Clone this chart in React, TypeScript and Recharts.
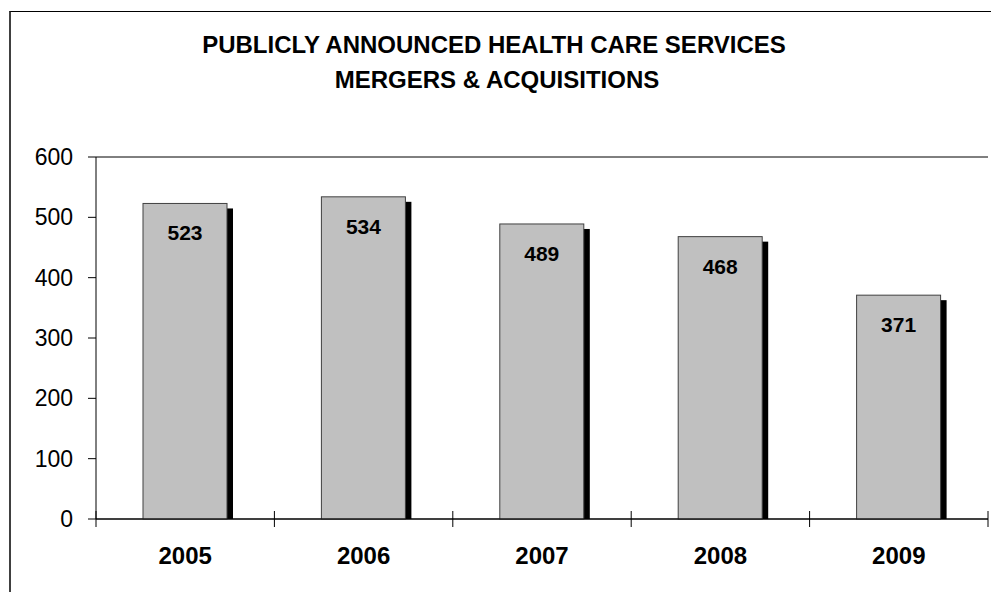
import React from "react";
import { BarChart, Bar, XAxis, YAxis, CartesianGrid, LabelList } from "recharts";

const years = ["2005", "2006", "2007", "2008", "2009"];
const deals = [523, 534, 489, 468, 371];
const yTicks = [0, 100, 200, 300, 400, 500, 600];
const titleLines = ["PUBLICLY ANNOUNCED HEALTH CARE SERVICES", "MERGERS & ACQUISITIONS"];

const data = years.map((y, i) => ({ year: y, value: deals[i] }));

const FONT = "'Liberation Sans', Arial, sans-serif";

const ShadowBar = (props: any) => {
  const { x, y, width, height } = props;
  if (height <= 0) return null;
  return (
    <g>
      <rect x={x + 6} y={y + 5} width={width} height={height - 5} fill="#000" />
      <rect x={x} y={y} width={width} height={height} fill="#C0C0C0" stroke="#404040" strokeWidth={1} />
    </g>
  );
};

const YearTick = (props: any) => {
  const { x, y, payload, index } = props;
  const half = payload && typeof payload.offset === "number" && payload.offset > 0 ? payload.offset : 89.2;
  const last = index === years.length - 1;
  return (
    <g>
      <line x1={x - half} x2={x - half} y1={y - 8} y2={y + 8} stroke="#000" strokeWidth={1} />
      {last && <line x1={x + half} x2={x + half} y1={y - 8} y2={y + 8} stroke="#000" strokeWidth={1} />}
      <text
        x={x}
        y={y + 45}
        textAnchor="middle"
        fontFamily={FONT}
        fontWeight="bold"
        fontSize={24}
        fill="#000"
      >
        {payload.value}
      </text>
    </g>
  );
};

export default function App() {
  return (
    <div style={{ position: "absolute", left: 0, top: 0, width: 991, height: 592, background: "#fff", overflow: "hidden" }}>
      <div
        style={{
          position: "absolute",
          left: 9,
          top: 11,
          width: 1000,
          height: 1000,
          borderLeft: "2px solid #404040",
          borderTop: "1px solid #000",
        }}
      />
      <div style={{ position: "absolute", left: 0, top: 0 }}>
        <BarChart
          width={991}
          height={592}
          data={data}
          margin={{ top: 157, right: 3, bottom: 0, left: 10 }}
          barCategoryGap={0}
        >
          <text x={494} y={53} textAnchor="middle" fontFamily={FONT} fontWeight="bold" fontSize={24} fill="#000">
            {titleLines[0]}
          </text>
          <text x={497} y={88} textAnchor="middle" fontFamily={FONT} fontWeight="bold" fontSize={24} fill="#000">
            {titleLines[1]}
          </text>
          <CartesianGrid horizontal={true} vertical={false} stroke="#000" strokeOpacity={1} />
          <XAxis
            dataKey="year"
            axisLine={{ stroke: "#000" }}
            tickLine={false}
            tickSize={0}
            tickMargin={0}
            height={73}
            interval={0}
            tick={<YearTick />}
          />
          <YAxis
            yAxisId="left"
            domain={[0, 600]}
            ticks={yTicks}
            width={86}
            axisLine={{ stroke: "#000" }}
            tickLine={{ stroke: "#000" }}
            tickSize={8}
            tickMargin={15}
            tick={{ fontFamily: FONT, fontSize: 23, fill: "#000" }}
          />
          <YAxis
            yAxisId="right"
            orientation="right"
            domain={[0, 600]}
            width={0}
            axisLine={{ stroke: "#808080", strokeWidth: 2 }}
            tick={false}
            tickLine={false}
          />
          <Bar
            dataKey="value"
            yAxisId="left"
            barSize={84}
            shape={<ShadowBar />}
            isAnimationActive={false}
          >
            <LabelList
              dataKey="value"
              position="insideTop"
              offset={22}
              fill="#000"
              fontFamily={FONT}
              fontWeight="bold"
              fontSize={21}
            />
          </Bar>
        </BarChart>
      </div>
    </div>
  );
}
